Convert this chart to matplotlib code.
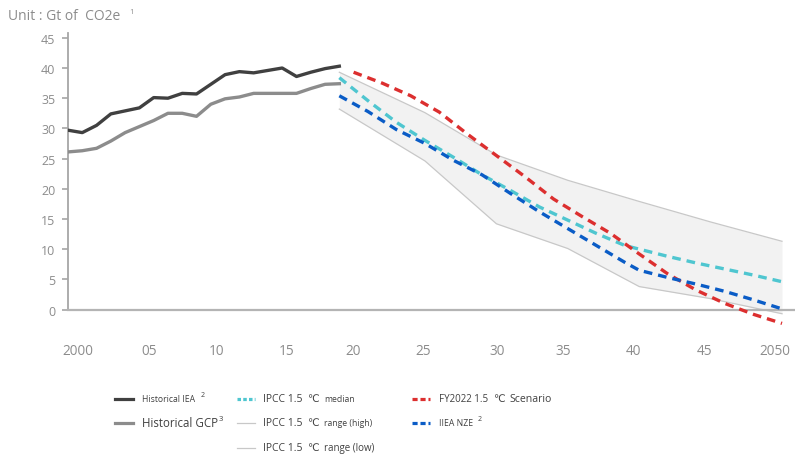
import matplotlib
matplotlib.use("Agg")
import matplotlib.pyplot as plt
from matplotlib.lines import Line2D
from matplotlib.transforms import ScaledTranslation

plt.rcParams['font.family'] = ['Open Sans', 'DejaVu Sans', 'Noto Sans CJK JP']

# ---------------- data ----------------
hist_years = list(range(2000, 2020))
hist_iea = [29.7, 29.3, 30.5, 32.4, 32.9, 33.4, 35.1, 35.0, 35.8, 35.7,
            37.3, 38.9, 39.4, 39.2, 39.6, 40.0, 38.6, 39.3, 39.9, 40.3]
hist_gcp = [26.1, 26.3, 26.7, 27.9, 29.3, 30.3, 31.3, 32.5, 32.5, 32.0,
            34.0, 34.9, 35.2, 35.8, 35.8, 35.8, 35.8, 36.6, 37.3, 37.4]

range_years = [2019, 2025, 2030, 2035, 2040, 2045, 2050]
ipcc_high = [39.3, 32.6, 25.6, 21.4, 17.9, 14.5, 11.3]
ipcc_low = [33.2, 24.6, 14.2, 10.1, 3.8, 1.8, -0.7]

median_years = [2019, 2021, 2023, 2025, 2027, 2029, 2031, 2033, 2035, 2037,
                2039, 2040, 2042, 2044, 2046, 2048, 2050]
ipcc_median = [38.4, 34.6, 31.0, 28.0, 25.2, 22.3, 19.7, 17.0, 14.8, 12.6,
               10.6, 10.0, 8.8, 7.7, 6.7, 5.7, 4.6]

fy_years = [2020, 2022, 2024, 2026, 2028, 2030, 2032, 2034, 2036, 2038,
            2040, 2042, 2044, 2046, 2048, 2050]
fy2022 = [39.3, 37.5, 35.4, 32.7, 29.0, 25.5, 22.0, 18.3, 15.4, 12.6,
          9.2, 5.9, 3.2, 1.0, -0.8, -2.3]

nze_years = [2019, 2021, 2023, 2025, 2027, 2029, 2031, 2033, 2035, 2037,
             2039, 2040, 2042, 2044, 2046, 2048, 2050]
iiea_nze = [35.4, 32.8, 29.8, 27.5, 24.7, 22.3, 19.2, 16.2, 13.4, 10.6,
            7.8, 6.5, 5.3, 4.2, 3.0, 1.6, 0.1]

x_ticks = [2000, 2005, 2010, 2015, 2020, 2025, 2030, 2035, 2040, 2045, 2050]
x_tick_labels = ['2000', '05', '10', '15', '20', '25', '30', '35', '40', '45', '2050']
y_ticks = [0, 5, 10, 15, 20, 25, 30, 35, 40, 45]

# ---------------- figure ----------------
W, H = 795, 456
fig = plt.figure(figsize=(W / 100, H / 100), dpi=100)
ax = fig.add_axes([68 / W, 1 - 310.5 / H, 1 - 68 / W, (310.5 - 34) / H])

grey_txt = '#8c8c8c'
spine_c = '#a6a6a6'

c_iea = '#404040'
c_gcp = '#8c8c8c'
c_med = '#4fc6d0'
c_red = '#dc2f2f'
c_blue = '#0a5cc6'
c_band = '#c8c8c8'

ax.fill_between(range_years, ipcc_low, ipcc_high, color='#f2f2f2', lw=0, clip_on=False, zorder=1)
ax.plot(range_years, ipcc_high, color=c_band, lw=0.9, clip_on=False, zorder=2)
ax.plot(range_years, ipcc_low, color=c_band, lw=0.9, clip_on=False, zorder=2)

ax.plot(hist_years, hist_gcp, color=c_gcp, lw=2.4, zorder=3, solid_joinstyle='round')
ax.plot(hist_years, hist_iea, color=c_iea, lw=2.4, zorder=3, solid_joinstyle='round')

ax.plot(median_years, ipcc_median, color=c_med, lw=2.4, dashes=(2.6, 1.8), clip_on=False, zorder=4)
ax.plot(fy_years, fy2022, color=c_red, lw=2.4, dashes=(2.6, 1.8), clip_on=False, zorder=5)
ax.plot(nze_years, iiea_nze, color=c_blue, lw=2.4, dashes=(2.6, 1.8), clip_on=False, zorder=6)

ax.set_xlim(2000, 2050.91)
ax.set_ylim(0, 45.8)

for s in ['top', 'right']:
    ax.spines[s].set_visible(False)
ax.spines['left'].set_color(spine_c)
ax.spines['left'].set_linewidth(1.3)
ax.spines['bottom'].set_color('#b4b4b4')
ax.spines['bottom'].set_linewidth(1.6)

ax.set_yticks(y_ticks)
ax.set_yticklabels([str(v) for v in y_ticks])
ax.tick_params(axis='y', length=4, width=1.2, color=spine_c, labelcolor=grey_txt,
               labelsize=9, pad=5)
ax.set_xticks(x_ticks)
ax.set_xticklabels(x_tick_labels)
ax.tick_params(axis='x', length=0, labelcolor=grey_txt, labelsize=9.8, pad=24)

# small horizontal nudges of the tick labels (in pixels) to match the reference layout
label_nudge = [10, 10, 6, 4, 0, -2, 1, -5, -6, -6, -7]
for lab, dx in zip(ax.get_xticklabels(), label_nudge):
    lab.set_transform(lab.get_transform() + ScaledTranslation(dx / 100, 0, fig.dpi_scale_trans))

fig.text(8 / W, 1 - 17 / H, 'Unit : Gt of  CO2e', fontsize=10, color=grey_txt,
         ha='left', va='center')
fig.text(129 / W, 1 - 12 / H, '1', fontsize=5.5, color=grey_txt, ha='left', va='center')

# ---------------- legend (manual) ----------------
renderer = fig.canvas.get_renderer()
txt_c = '#404040'


def entry(xh, y, handle_kw, pieces, xt):
    fig.add_artist(Line2D([xh / W, (xh + 18) / W], [1 - y / H, 1 - y / H],
                          transform=fig.transFigure, **handle_kw))
    x = xt
    for s, size, dy, gap in pieces:
        t = fig.text(x / W, 1 - (y + dy) / H, s, fontsize=size, color=txt_c,
                     ha='left', va='center')
        bb = t.get_window_extent(renderer)
        x += bb.width + gap


entry(115, 400, dict(color=c_iea, lw=2.3),
      [('Historical IEA', 6.2, 0, 5), ('2', 5, -4, 0)], 142)
entry(115, 424, dict(color=c_gcp, lw=2.3),
      [('Historical GCP', 8.3, 0, 0.5), ('3', 5.5, -4, 0)], 142)

entry(237, 400, dict(color=c_med, lw=2.3, dashes=(1.1, 0.7)),
      [('IPCC 1.5', 7.5, 0, 5), ('℃', 7.5, 0, 5), ('median', 6.2, 0, 0)], 263)
entry(237, 424, dict(color=c_band, lw=0.9),
      [('IPCC 1.5', 7.5, 0, 5), ('℃', 7.5, 0, 5), ('range (high)', 6.2, 0, 0)], 263)
entry(237, 449, dict(color=c_band, lw=0.9),
      [('IPCC 1.5', 7.5, 0, 5), ('℃', 7.5, 0, 5), ('range (low)', 7.0, 0, 0)], 263)

entry(412, 400, dict(color=c_red, lw=2.3, dashes=(1.6, 0.9)),
      [('FY2022 1.5', 7.0, 0, 5), ('℃', 7.5, 0, 5), ('Scenario', 7.6, 0, 0)], 439)
entry(412, 424, dict(color=c_blue, lw=2.3, dashes=(1.6, 0.9)),
      [('IIEA NZE', 6.2, 0, 5), ('2', 5, -4, 0)], 439)

fig.savefig('out.png', dpi=100)
